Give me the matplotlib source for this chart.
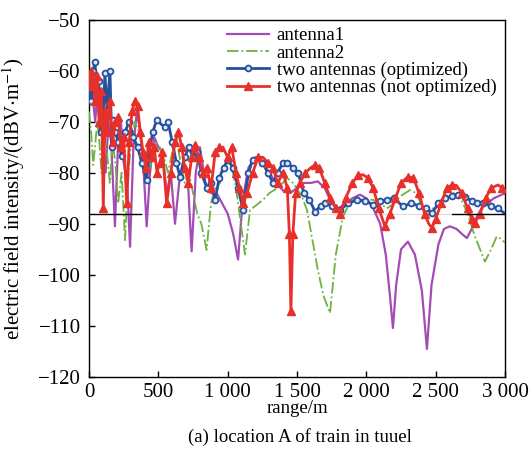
import numpy as np
import matplotlib
matplotlib.use("Agg")
import matplotlib.pyplot as plt
from matplotlib.ticker import FuncFormatter

plt.rcParams['font.family'] = ['Liberation Serif', 'DejaVu Serif']
plt.rcParams['mathtext.fontset'] = 'stix'

# antenna1 (purple, solid)
a1_x = [0, 15, 30, 45, 60, 75, 90, 105, 120, 140, 160, 187, 210, 230, 250, 275, 296, 320, 345, 370,
        395, 416, 440, 470, 500, 530, 560, 590, 620, 650, 680, 710, 740, 770, 800, 840, 880, 920, 960,
        1000, 1040, 1075, 1110, 1150, 1200, 1250, 1300, 1350, 1400, 1450, 1500, 1550, 1600, 1650, 1700,
        1750, 1800, 1850, 1900, 1954, 2000, 2050, 2100, 2140, 2170, 2192, 2215, 2250, 2300, 2350, 2400,
        2437, 2470, 2520, 2560, 2603, 2650, 2690, 2725, 2760, 2790, 2830, 2870, 2920, 2960, 3000]
a1_y = [-65, -62, -66, -70, -64, -72, -68, -75, -80, -70, -74, -90.5, -74, -70, -78, -82, -94.5, -75, -68, -72,
        -80, -90.5, -80, -73, -75, -76, -84, -80, -90, -82, -78, -80, -95.4, -80, -75, -82, -84, -84, -86,
        -88, -92, -97, -85, -79, -77, -78, -80, -82, -83.5, -84, -83, -82, -82, -81.7, -83,
        -86, -87, -86, -85, -84.3, -85, -87, -90, -96, -104, -110.4, -102, -95, -93.5, -96, -103,
        -114.5, -102, -94, -91, -90.5, -91, -92, -92.8, -91, -89, -87, -86, -85, -84.5, -84]

# antenna2 (green, dash-dot)
a2_x = [0, 15, 30, 43, 60, 75, 90, 110, 130, 150, 170, 190, 210, 235, 260, 280, 300, 330, 360, 390,
        420, 450, 480, 510, 540, 570, 600, 630, 660, 690, 720, 750, 780, 810, 848, 880, 910, 945, 975,
        1000, 1030, 1060, 1090, 1125, 1161, 1200, 1255, 1300, 1377, 1428, 1470, 1507, 1540, 1572, 1610,
        1650, 1690, 1738, 1780, 1831, 1870, 1904, 1950, 2000, 2048, 2100, 2148, 2200, 2250, 2314, 2360,
        2400, 2437, 2480, 2530, 2580, 2630, 2680, 2730, 2783, 2820, 2855, 2900, 2940, 2975, 3000]
a2_y = [-68, -72, -78.5, -75, -70, -74, -80, -72, -76, -82, -74, -78, -86, -80, -93.2, -82, -75, -70, -72, -76,
        -80, -78, -74, -75, -77, -80, -76, -73, -78, -82, -80, -84, -88, -90, -95.1, -86, -83, -82, -79,
        -77.5, -79, -83, -89, -96, -87.3, -86.5, -85.3, -84, -82.7, -81, -82, -83.4, -85, -87.3, -93,
        -99, -104, -107.5, -96, -88.6, -86.5, -85.3, -85.3, -85.3, -85.3, -86, -87, -86, -84.5, -83.4, -84,
        -86.5, -88.6, -87, -85.5, -84.5, -84, -85, -88, -92.5, -95, -97.4, -95, -92.5, -93, -93.7]

# two antennas (optimized)
opt_x = [0, 15, 30, 43, 55, 70, 85, 100, 115, 130, 151, 165, 173, 190, 210, 236, 260, 290, 320, 350,
         380, 416, 440, 460, 488, 520, 550, 570, 600, 630, 656, 690, 720, 750, 780, 810, 850, 880, 909,
         940, 970, 1000, 1040, 1075, 1111, 1150, 1180, 1211, 1250, 1290, 1327, 1360, 1400, 1428, 1470,
         1507, 1550, 1590, 1630, 1670, 1702, 1750, 1810, 1870, 1932, 1990, 2048, 2100, 2148, 2200, 2264,
         2320, 2380, 2430, 2473, 2520, 2570, 2620, 2661, 2710, 2760, 2800, 2841, 2900, 2950, 3000]
opt_y = [-63, -66, -60, -58.3, -64, -62, -72, -70, -60.5, -68, -60, -75, -69.7, -72, -74, -76.8, -72, -70, -73, -75,
         -78, -81.4, -75, -72, -69.7, -70.5, -71, -70, -74, -78, -80.8, -77, -75, -77, -76, -80, -83, -82, -85.3,
         -81, -79, -77.5, -79, -83, -87.3, -80, -77.5, -77, -78, -80, -82, -80, -78, -78, -79,
         -80, -84, -85.3, -87.6, -86.5, -86, -86.5, -87.3, -86, -85.3, -85.5, -86.3, -85.5, -85.3, -85, -86.6,
         -86, -86.5, -87, -87.9, -86, -85, -84.5, -84.3, -84.8, -85.5, -85.9, -86, -86.5, -87, -88]

# two antennas (not optimized)
nopt_x = [0, 15, 30, 45, 60, 75, 90, 103, 115, 130, 150, 170, 190, 211, 230, 250, 272, 290, 310, 332,
          350, 370, 390, 410, 430, 450, 470, 490, 510, 530, 560, 590, 620, 644, 670, 690, 716, 740, 764,
          790, 820, 850, 880, 910, 940, 966, 1000, 1029, 1060, 1085, 1111, 1140, 1180, 1220, 1255, 1290,
          1327, 1360, 1400, 1430, 1445, 1456, 1470, 1490, 1520, 1560, 1600, 1629, 1660, 1700, 1740, 1780,
          1810, 1850, 1900, 1940, 1977, 2010, 2050, 2090, 2134, 2170, 2210, 2250, 2300, 2340, 2380, 2420,
          2450, 2473, 2500, 2540, 2580, 2618, 2650, 2690, 2730, 2760, 2783, 2820, 2860, 2900, 2950, 2980, 3000]
nopt_y = [-63, -60, -62, -66, -61, -70, -64, -87, -68, -72, -66, -74, -70, -69, -75, -73, -86, -74, -68, -66,
          -67, -72, -76, -79, -74, -77, -75, -80, -78, -76, -86, -80, -74, -72, -75, -79, -82, -77, -74.5,
          -77, -80, -79, -83, -76, -75, -75, -77, -75, -80, -83, -86, -84, -80, -77, -77, -78,
          -79, -82, -80, -83, -92, -107, -92, -84, -82, -80, -79, -78.5, -79, -82, -85, -87,
          -88, -85, -82, -80.5, -80.4, -81, -83, -87, -90.5, -88, -85, -82, -80.8, -81, -84, -88,
          -90, -90.8, -89, -86, -83, -82.4, -82.5, -84, -87, -89, -89.8, -88, -85, -83, -82.4, -83, -84]

ref_level = -88

fig = plt.figure(figsize=(5.32, 4.54), dpi=100)
ax = fig.add_axes([89/532, 1-377/454, 416/532, (377-19.5)/454])

ax.axhline(ref_level, color='#dcdcdc', lw=0.8, zorder=1)
ax.plot([0, 375], [ref_level, ref_level], color='black', lw=1.0, zorder=6)
ax.plot([2620, 3000], [ref_level, ref_level], color='black', lw=1.0, zorder=6)

ax.plot(a1_x, a1_y, color='#a34cb5', lw=1.6, label='antenna1', zorder=2)
ax.plot(a2_x, a2_y, color='#6db33f', lw=1.3, ls='-.', label='antenna2', zorder=3)
ax.plot(opt_x, opt_y, color='#2450a0', lw=2.0, marker='o', ms=4.2, mfc='#dde6f5', mec='#2450a0',
        mew=1.3, markevery=0.014, label='two antennas (optimized)', zorder=4)
ax.plot(nopt_x, nopt_y, color='#e8302a', lw=2.0, marker='^', ms=5.5, mfc='#e8302a', mec='#e8302a',
        markevery=0.022, label='two antennas (not optimized)', zorder=5)

ax.set_xlim(0, 3000)
ax.set_ylim(-120, -50)
ax.set_xticks(np.arange(0, 3001, 500))
ax.set_yticks(np.arange(-120, -49, 10))
ax.xaxis.set_major_formatter(FuncFormatter(lambda v, p: f"{int(v):,}".replace(",", " ")))
ax.yaxis.set_major_formatter(FuncFormatter(lambda v, p: f"\u2212{abs(int(v))}"))
ax.tick_params(direction='in', length=4, width=1, labelsize=15, top=False, right=False)
ax.tick_params(axis='y', pad=6)
ax.tick_params(axis='x', pad=4)
for s in ax.spines.values():
    s.set_linewidth(1.0)

ax.set_xlabel('range/m', fontsize=13.5, labelpad=-1)
ax.set_ylabel('electric field intensity/(dBV$\\cdot$m$^{-1}$)', fontsize=15)
ax.yaxis.set_label_coords(-0.15, 0.5)

ax.legend(loc='upper left', bbox_to_anchor=(0.30, 1.015), frameon=False, fontsize=13.5,
          handlelength=2.25, handletextpad=0.4, labelspacing=0.0, borderpad=0.2, markerscale=1.0)

fig.text(0.564, 0.037, '(a) location A of train in tuuel', ha='center', va='center', fontsize=13.5)

fig.savefig('out.png', dpi=100)
